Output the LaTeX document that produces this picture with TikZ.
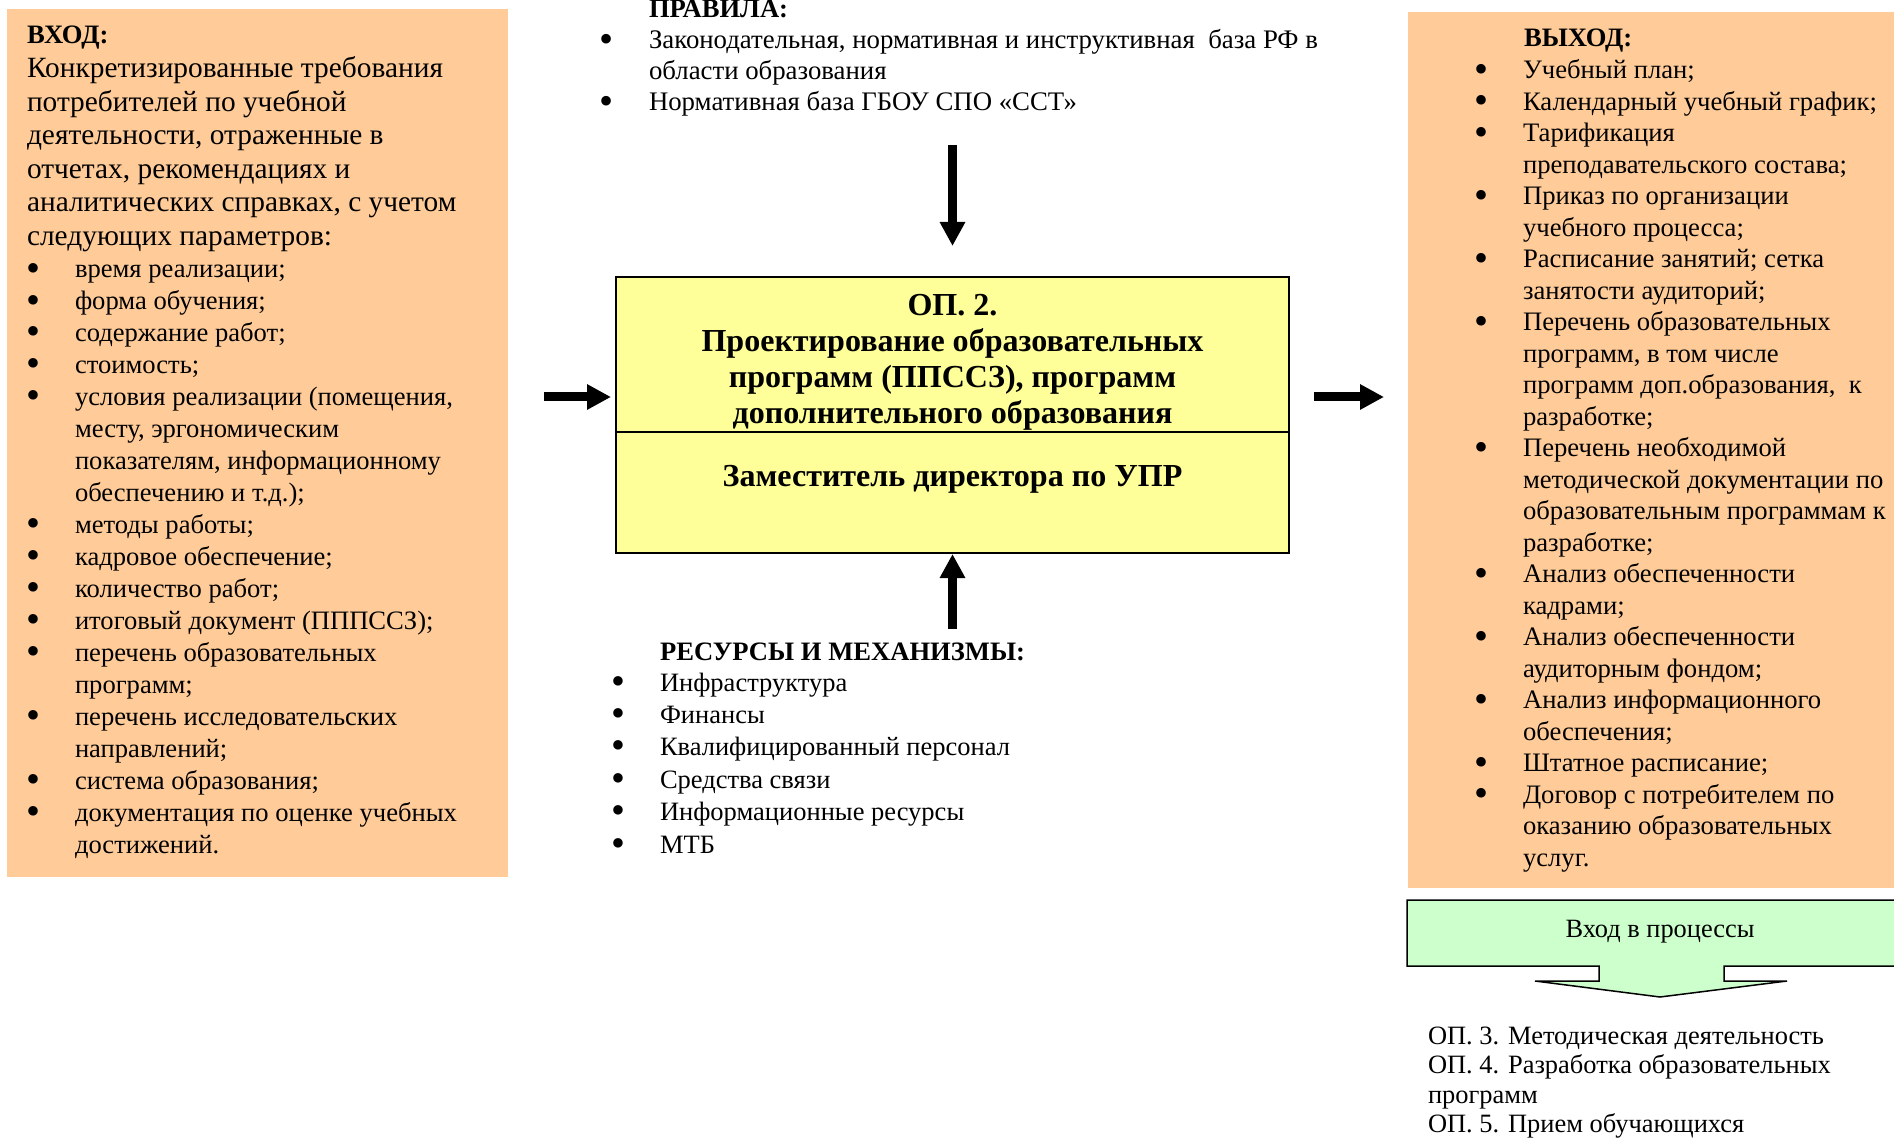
\documentclass[tikz,border=0pt]{standalone}
\usepackage{fontspec}
\usepackage{graphicx}
\setmainfont{Liberation Serif}
\usetikzlibrary{arrows.meta}

\definecolor{boxorange}{HTML}{FFCC99}
\definecolor{boxyellow}{HTML}{FFFF99}
\definecolor{boxgreen}{HTML}{CCFFCC}

% font size that gives a sample string a given width (in pt)
\newlength\probe
\newcommand\fitfont[3]{%
  \settowidth\probe{\fontsize{10}{12}\selectfont #3}%
  \pgfmathsetmacro#1{10*#2/\probe}\global\let#1#1}
% bullet hanging 21pt left of the text
\newcommand\blt{\leavevmode\llap{\makebox[0pt][c]{\smash{\raisebox{-.115em}{\scalebox{1.5}{\textbullet}}}}\hspace{21pt}}}
% left-aligned block whose first baseline is the node's base
\newcommand\blk[3]{\parbox[t]{600pt}{\fontsize{#1}{#2}\selectfont #3}}

\tikzset{
  txt/.style={inner sep=0pt, outer sep=0pt},
  orbox/.style={fill=boxorange, draw=none, inner sep=0pt},
  procbox/.style={fill=boxyellow, draw=black, line width=1pt, inner sep=0pt},
  flow/.style={line width=4.5pt, -{Triangle[length=12pt,width=12pt]}},
}

\begin{document}
\fitfont\fsLP{208}{Конкретизированные требования}%
\fitfont\fsLB{189}{условия реализации (помещения,}%
\fitfont\fsTop{214}{Нормативная база ГБОУ СПО «ССТ»}%
\fitfont\fsC{251}{\bfseries Проектирование образовательных}%
\fitfont\fsRes{175}{Квалифицированный персонал}%
\fitfont\fsOut{177}{Календарный учебный график;}%
\fitfont\fsG{94.5}{Вход в процессы}%
\fitfont\fsBt{198}{ОП. 3. Методическая деятельность}%
\fitfont\fsH{182.5}{\bfseries РЕСУРСЫ И МЕХАНИЗМЫ:}%
\begin{tikzpicture}[x=0.5pt,y=-0.5pt]
\useasboundingbox (0,0) rectangle (1894,1138);
\fill[white] (0,0) rectangle (1894,1138);

% ---------- input box ----------
\node[orbox, minimum width=250.5pt, minimum height=434pt] (inbox) at (257.5,443) {};
\node[txt, anchor=base west] (inhead) at (27,44)
  {\fontsize{\fsH}{16}\selectfont\bfseries ВХОД:};
\node[txt, anchor=base west] (inpar) at (27,78) {\blk{\fsLP}{16.75}{%
Конкретизированные требования\\
потребителей по учебной\\
деятельности, отраженные в\\
отчетах, рекомендациях и\\
аналитических справках, с учетом\\
следующих параметров:}};
\node[txt, anchor=base west] (inlist) at (75,278) {\blk{\fsLB}{15.98}{%
\blt время реализации;\\
\blt форма обучения;\\
\blt содержание работ;\\
\blt стоимость;\\
\blt условия реализации (помещения,\\
месту, эргономическим\\
показателям, информационному\\
обеспечению и т.д.);\\
\blt методы работы;\\
\blt кадровое обеспечение;\\
\blt количество работ;\\
\blt итоговый документ (ПППССЗ);\\
\blt перечень образовательных\\
программ;\\
\blt перечень исследовательских\\
направлений;\\
\blt система образования;\\
\blt документация по оценке учебных\\
достижений.}};

% ---------- rules ----------
\node[txt, anchor=base west] (rulehead) at (649,18)
  {\fontsize{\fsH}{16}\selectfont\bfseries ПРАВИЛА:};
\node[txt, anchor=base west] (rulelist) at (649,49) {\blk{\fsTop}{15.5}{%
\blt Законодательная, нормативная и инструктивная\ \ база РФ в\\
области образования\\
\blt Нормативная база ГБОУ СПО «ССТ»}};

% ---------- process box ----------
\node[procbox, minimum width=336.5pt, minimum height=138pt] (proc) at (952.5,415) {};
\draw[line width=1pt] (proc.west |- 0,432) -- (proc.east |- 0,432);
\node[txt, anchor=base] (proctitle) at (952.5,316) {\parbox[t]{330pt}{\centering
\fontsize{\fsC}{18}\selectfont\bfseries
ОП. 2.\\
Проектирование образовательных\\
программ (ППССЗ), программ\\
дополнительного образования}};
\node[txt, anchor=base] (procowner) at (952.5,487)
  {\fontsize{\fsC}{18}\selectfont\bfseries Заместитель директора по УПР};

% ---------- resources ----------
\node[txt, anchor=base west] (reshead) at (660,660)
  {\fontsize{\fsH}{16}\selectfont\bfseries РЕСУРСЫ И МЕХАНИЗМЫ:};
\node[txt, anchor=base west] (reslist) at (660,691) {\blk{\fsRes}{16.2}{%
\blt Инфраструктура\\
\blt Финансы\\
\blt Квалифицированный персонал\\
\blt Средства связи\\
\blt Информационные ресурсы\\
\blt МТБ}};

% ---------- output box ----------
\node[orbox, minimum width=256pt, minimum height=438pt] (outbox) at (1664,450) {};
\node[txt, anchor=base west] (outhead) at (1524,47)
  {\fontsize{\fsH}{16}\selectfont\bfseries ВЫХОД:};
\node[txt, anchor=base west] (outlist) at (1523,79) {\blk{\fsOut}{15.75}{%
\blt Учебный план;\\
\blt Календарный учебный график;\\
\blt Тарификация\\
преподавательского состава;\\
\blt Приказ по организации\\
учебного процесса;\\
\blt Расписание занятий; сетка\\
занятости аудиторий;\\
\blt Перечень образовательных\\
программ, в том числе\\
программ доп.образования,\ \ к\\
разработке;\\
\blt Перечень необходимой\\
методической документации по\\
образовательным программам к\\
разработке;\\
\blt Анализ обеспеченности\\
кадрами;\\
\blt Анализ обеспеченности\\
аудиторным фондом;\\
\blt Анализ информационного\\
обеспечения;\\
\blt Штатное расписание;\\
\blt Договор с потребителем по\\
оказанию образовательных\\
услуг.}};

% ---------- hand-over arrow ----------
\draw[fill=boxgreen, draw=black, line width=0.75pt]
  (1407,900) -- (1915,900) -- (1915,966) -- (1724,966) -- (1724,981)
  -- (1787,981) -- (1660,997) -- (1535,981) -- (1599,981) -- (1599,966)
  -- (1407,966) -- cycle;
\node[txt, anchor=base] (handover) at (1660,937)
  {\fontsize{\fsG}{14}\selectfont Вход в процессы};
\node[txt, anchor=base west] (nextops) at (1428,1044) {\blk{\fsBt}{14.8}{%
ОП. 3. Методическая деятельность\\
ОП. 4. Разработка образовательных\\
программ\\
ОП. 5. Прием обучающихся}};

% ---------- connectors ----------
\coordinate (ctrl) at (952.5,145);
\coordinate (mech) at (952.5,629);
\coordinate (inp)  at (544,397);
\coordinate (outp) at (1384,397);
\draw[flow, shorten >=15pt] (ctrl) -- (proc.north);
\draw[flow] (mech) -- (proc.south);
\draw[flow, shorten >=2pt] (inp) -- (proc.west |- inp);
\draw[flow, shorten <=12pt] (proc.east |- outp) -- (outp);
\end{tikzpicture}
\end{document}
